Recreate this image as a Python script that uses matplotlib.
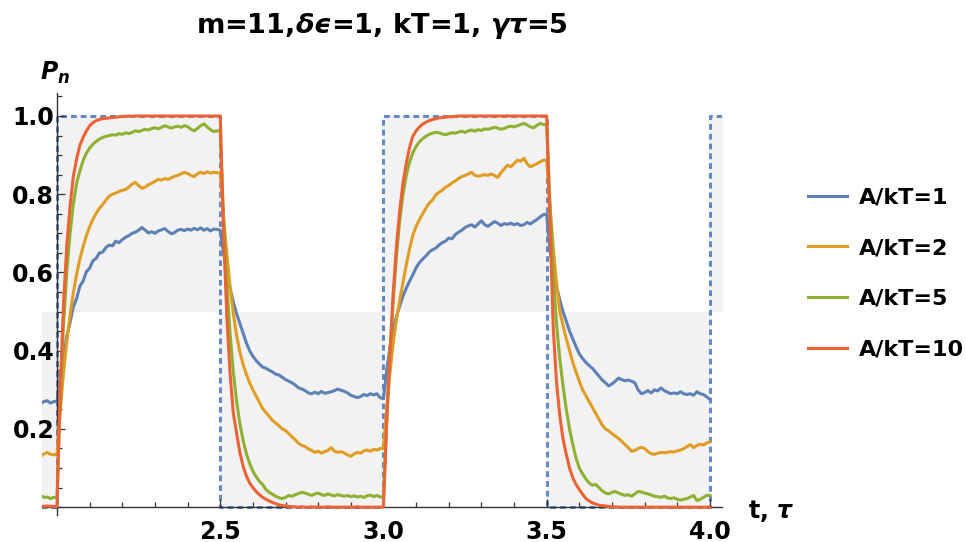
"""P_n(t) under a square-wave drive, four drive strengths, Mathematica-like look."""

import matplotlib

matplotlib.use("Agg")
import matplotlib.pyplot as plt
import numpy as np
from matplotlib.ticker import MultipleLocator

plt.rcParams.update({
    "font.family": "DejaVu Sans",
    "font.weight": "bold",
    "mathtext.fontset": "custom",
    "mathtext.rm": "DejaVu Sans:bold",
    "mathtext.it": "DejaVu Sans:bold:italic",
    "mathtext.bf": "DejaVu Sans:bold",
})

# sample times 1.95 ... 4.00, step 0.01 (206 samples)
T = np.linspace(1.95, 4.0, 206)

# drive: square wave between 0 and 1, switching every half period
WAVE_T = [1.95, 2.0, 2.0, 2.5, 2.5, 3.0, 3.0, 3.5, 3.5, 4.0, 4.0, 4.05]
WAVE_P = [0, 0, 1, 1, 0, 0, 1, 1, 0, 0, 1, 1]

LABELS = ["A/kT=1", "A/kT=2", "A/kT=5", "A/kT=10"]
COLORS = ["#5E81B5", "#E19C24", "#8FB032", "#EB6235"]

P_A1 = [
    0.265, 0.270, 0.272, 0.266, 0.270,
    # 2.00 - 2.49
    0.270, 0.335, 0.385, 0.437, 0.472, 0.512, 0.533, 0.565, 0.578, 0.602,
    0.611, 0.630, 0.636, 0.650, 0.652, 0.664, 0.670, 0.668, 0.680, 0.676,
    0.684, 0.690, 0.694, 0.700, 0.703, 0.708, 0.715, 0.708, 0.701, 0.704,
    0.700, 0.706, 0.709, 0.712, 0.705, 0.699, 0.702, 0.708, 0.710, 0.707,
    0.711, 0.708, 0.713, 0.709, 0.714, 0.708, 0.712, 0.706, 0.711, 0.710,
    # 2.50 - 2.99
    0.708, 0.650, 0.600, 0.560, 0.525, 0.495, 0.470, 0.445, 0.420, 0.400,
    0.386, 0.375, 0.366, 0.358, 0.355, 0.350, 0.346, 0.340, 0.338, 0.332,
    0.326, 0.322, 0.318, 0.312, 0.305, 0.302, 0.298, 0.292, 0.290, 0.294,
    0.290, 0.296, 0.291, 0.293, 0.295, 0.298, 0.302, 0.299, 0.296, 0.292,
    0.286, 0.283, 0.280, 0.283, 0.288, 0.285, 0.290, 0.287, 0.290, 0.280,
    # 3.00 - 3.49
    0.277, 0.350, 0.410, 0.455, 0.488, 0.515, 0.540, 0.560, 0.578, 0.594,
    0.612, 0.625, 0.634, 0.642, 0.652, 0.658, 0.662, 0.670, 0.676, 0.680,
    0.688, 0.686, 0.697, 0.703, 0.708, 0.715, 0.719, 0.722, 0.716, 0.724,
    0.732, 0.722, 0.718, 0.724, 0.730, 0.726, 0.720, 0.725, 0.723, 0.726,
    0.722, 0.725, 0.720, 0.722, 0.728, 0.724, 0.730, 0.735, 0.742, 0.748,
    # 3.50 - 4.00
    0.748, 0.655, 0.610, 0.565, 0.530, 0.500, 0.475, 0.450, 0.430, 0.410,
    0.392, 0.380, 0.370, 0.362, 0.355, 0.345, 0.335, 0.325, 0.318, 0.310,
    0.315, 0.322, 0.330, 0.326, 0.323, 0.325, 0.322, 0.318, 0.300, 0.290,
    0.293, 0.298, 0.292, 0.300, 0.297, 0.305, 0.298, 0.294, 0.290, 0.292,
    0.290, 0.295, 0.290, 0.288, 0.290, 0.286, 0.295, 0.290, 0.288, 0.282,
    0.276,
]

P_A2 = [
    0.130, 0.136, 0.140, 0.135, 0.134,
    0.134, 0.246, 0.344, 0.424, 0.492, 0.548, 0.595, 0.634, 0.666, 0.694,
    0.717, 0.736, 0.751, 0.764, 0.774, 0.785, 0.795, 0.800, 0.803, 0.807,
    0.810, 0.812, 0.818, 0.826, 0.830, 0.822, 0.815, 0.818, 0.824, 0.828,
    0.833, 0.838, 0.836, 0.840, 0.838, 0.842, 0.846, 0.848, 0.852, 0.856,
    0.853, 0.848, 0.845, 0.852, 0.856, 0.853, 0.857, 0.854, 0.856, 0.855,
    0.855, 0.745, 0.650, 0.565, 0.495, 0.440, 0.397, 0.365, 0.340, 0.318,
    0.300, 0.284, 0.268, 0.252, 0.242, 0.232, 0.222, 0.215, 0.208, 0.200,
    0.196, 0.188, 0.180, 0.172, 0.163, 0.158, 0.155, 0.149, 0.145, 0.140,
    0.143, 0.138, 0.142, 0.145, 0.152, 0.143, 0.140, 0.142, 0.138, 0.134,
    0.130, 0.136, 0.140, 0.138, 0.144, 0.146, 0.143, 0.148, 0.146, 0.150,
    0.150, 0.255, 0.345, 0.420, 0.480, 0.530, 0.575, 0.620, 0.660, 0.695,
    0.718, 0.735, 0.750, 0.764, 0.777, 0.785, 0.798, 0.805, 0.810, 0.818,
    0.822, 0.829, 0.834, 0.840, 0.845, 0.848, 0.852, 0.856, 0.848, 0.846,
    0.848, 0.850, 0.848, 0.852, 0.848, 0.843, 0.855, 0.865, 0.874, 0.870,
    0.878, 0.887, 0.884, 0.892, 0.878, 0.870, 0.874, 0.878, 0.883, 0.887,
    0.887, 0.770, 0.665, 0.575, 0.500, 0.465, 0.430, 0.400, 0.370, 0.345,
    0.322, 0.300, 0.285, 0.270, 0.255, 0.240, 0.225, 0.210, 0.200, 0.195,
    0.188, 0.182, 0.176, 0.168, 0.160, 0.152, 0.143, 0.145, 0.150, 0.153,
    0.150, 0.142, 0.137, 0.135, 0.138, 0.140, 0.139, 0.140, 0.142, 0.141,
    0.144, 0.146, 0.150, 0.155, 0.160, 0.152, 0.158, 0.161, 0.159, 0.164,
    0.167,
]

P_A5 = [
    0.030, 0.025, 0.026, 0.022, 0.025,
    0.025, 0.282, 0.468, 0.602, 0.699, 0.775, 0.828, 0.860, 0.886, 0.905,
    0.918, 0.928, 0.935, 0.941, 0.945, 0.948, 0.950, 0.952, 0.951, 0.955,
    0.953, 0.957, 0.955, 0.958, 0.962, 0.960, 0.963, 0.966, 0.964, 0.968,
    0.970, 0.967, 0.971, 0.975, 0.972, 0.969, 0.972, 0.974, 0.971, 0.975,
    0.973, 0.966, 0.962, 0.968, 0.975, 0.980, 0.972, 0.965, 0.960, 0.962,
    0.962, 0.741, 0.573, 0.445, 0.346, 0.271, 0.214, 0.171, 0.137, 0.112,
    0.092, 0.078, 0.066, 0.058, 0.045, 0.038, 0.033, 0.028, 0.024, 0.022,
    0.025, 0.030, 0.028, 0.032, 0.035, 0.038, 0.036, 0.033, 0.030, 0.034,
    0.036, 0.032, 0.030, 0.034, 0.031, 0.029, 0.032, 0.030, 0.028, 0.030,
    0.027, 0.029, 0.026, 0.028, 0.025, 0.029, 0.031, 0.027, 0.030, 0.026,
    0.026, 0.220, 0.390, 0.530, 0.645, 0.735, 0.800, 0.848, 0.882, 0.906,
    0.922, 0.934, 0.942, 0.948, 0.953, 0.956, 0.958, 0.957, 0.954, 0.952,
    0.955, 0.957, 0.956, 0.959, 0.961, 0.958, 0.962, 0.964, 0.961, 0.965,
    0.963, 0.967, 0.966, 0.968, 0.971, 0.969, 0.966, 0.968, 0.972, 0.974,
    0.972, 0.975, 0.978, 0.981, 0.977, 0.972, 0.970, 0.976, 0.981, 0.978,
    0.978, 0.780, 0.600, 0.470, 0.380, 0.310, 0.250, 0.200, 0.160, 0.125,
    0.100, 0.085, 0.072, 0.062, 0.056, 0.058, 0.050, 0.042, 0.036, 0.034,
    0.038, 0.040, 0.036, 0.033, 0.030, 0.032, 0.028, 0.034, 0.040, 0.039,
    0.036, 0.034, 0.031, 0.028, 0.027, 0.025, 0.028, 0.024, 0.022, 0.024,
    0.020, 0.018, 0.020, 0.022, 0.026, 0.030, 0.017, 0.020, 0.025, 0.030,
    0.030,
]

P_A10 = [
    0.003, 0.002, 0.003, 0.002, 0.002,
    0.002, 0.310, 0.520, 0.670, 0.770, 0.845, 0.890, 0.925, 0.945, 0.962,
    0.975, 0.983, 0.988, 0.991, 0.993, 0.994, 0.995, 0.996, 0.997, 0.998,
    0.999, 0.999, 1.000, 0.999, 1.000, 1.000, 1.000, 1.000, 1.000, 1.000,
    1.000, 1.000, 1.000, 1.000, 1.000, 1.000, 1.000, 1.000, 1.000, 1.000,
    1.000, 1.000, 1.000, 1.000, 1.000, 1.000, 1.000, 1.000, 1.000, 1.000,
    1.000, 0.700, 0.490, 0.343, 0.240, 0.190, 0.140, 0.105, 0.080, 0.062,
    0.050, 0.040, 0.032, 0.025, 0.020, 0.016, 0.012, 0.009, 0.006, 0.004,
    0.003, 0.002, 0.001, 0.001, 0.000, 0.001, 0.000, 0.000, 0.001, 0.000,
    0.000, 0.000, 0.000, 0.001, 0.000, 0.000, 0.000, 0.000, 0.000, 0.000,
    0.000, 0.000, 0.001, 0.000, 0.000, 0.000, 0.000, 0.000, 0.000, 0.000,
    0.001, 0.220, 0.400, 0.550, 0.670, 0.760, 0.830, 0.880, 0.920, 0.948,
    0.962, 0.972, 0.979, 0.984, 0.988, 0.991, 0.993, 0.995, 0.996, 0.997,
    0.998, 0.998, 0.999, 1.000, 1.000, 1.000, 1.000, 1.000, 1.000, 1.000,
    1.000, 1.000, 1.000, 1.000, 1.000, 1.000, 1.000, 1.000, 1.000, 1.000,
    1.000, 1.000, 1.000, 1.000, 1.000, 1.000, 1.000, 1.000, 1.000, 1.000,
    1.000, 0.720, 0.460, 0.320, 0.235, 0.175, 0.135, 0.100, 0.075, 0.058,
    0.045, 0.033, 0.022, 0.016, 0.011, 0.008, 0.005, 0.004, 0.003, 0.002,
    0.001, 0.001, 0.000, 0.000, 0.000, 0.000, 0.000, 0.000, 0.000, 0.000,
    0.000, 0.000, 0.000, 0.000, 0.000, 0.000, 0.000, 0.000, 0.000, 0.000,
    0.000, 0.000, 0.000, 0.000, 0.000, 0.000, 0.000, 0.000, 0.000, 0.000,
    0.000,
]

XTICKS = [2.5, 3.0, 3.5, 4.0]
YTICKS = [0.2, 0.4, 0.6, 0.8, 1.0]

AXIS_C = "#333333"


def main():
    fig = plt.figure(figsize=(9.66, 5.42), dpi=100)
    ax = fig.add_axes([42 / 966, 27 / 542, 680 / 966, 422.5 / 542])
    ax.set_xlim(1.954, 4.037)
    ax.set_ylim(-0.02, 1.06)

    # shading between the drive and the 1/2 line
    ax.fill_between(WAVE_T, WAVE_P, 0.5, color="#f2f2f2", lw=0, zorder=0)
    ax.plot(WAVE_T, WAVE_P, color="#6589c2", lw=2.2, ls=(0, (1.9, 1.3)),
            zorder=1)

    lines = []
    for i, (p, c) in enumerate(zip([P_A1, P_A2, P_A5, P_A10], COLORS)):
        (ln,) = ax.plot(T, p, color=c, lw=2.2, zorder=2 + i,
                        solid_joinstyle="round")
        lines.append(ln)

    # Mathematica-style axes crossing at (2, 0)
    for side in ("top", "right"):
        ax.spines[side].set_visible(False)
    ax.spines["left"].set_position(("data", 2.0))
    ax.spines["bottom"].set_position(("data", 0.0))
    for side in ("left", "bottom"):
        ax.spines[side].set_color(AXIS_C)
        ax.spines[side].set_linewidth(1.0)

    ax.set_xticks(XTICKS, labels=[f"{v:.1f}" for v in XTICKS])
    ax.set_yticks(YTICKS, labels=[f"{v:.1f}" for v in YTICKS])
    ax.xaxis.set_minor_locator(MultipleLocator(0.1))
    ax.yaxis.set_minor_locator(MultipleLocator(0.05))
    ax.tick_params(which="both", direction="in", color=AXIS_C, width=0.9,
                   labelsize=17)
    ax.tick_params(which="major", length=5.5)
    ax.tick_params(which="minor", length=3.5)
    ax.tick_params(axis="x", pad=9)
    ax.tick_params(axis="y", pad=2)

    fig.text(382 / 966, 1 - 33 / 542,
             "m=11,$\u03b4\u03f5$=1, kT=1, $\u03b3\u03c4$=5",
             ha="center", va="baseline", fontsize=19.5)
    fig.text(40 / 966, 1 - 80 / 542, r"$P_n$", ha="left", va="baseline",
             fontsize=17)
    fig.text(748 / 966, 1 - 518 / 542, r"t, $\tau$", ha="left", va="baseline",
             fontsize=17)

    fig.legend(lines, LABELS, loc="center left",
               bbox_to_anchor=(808 / 966, 1 - 273.5 / 542),
               bbox_transform=fig.transFigure, frameon=False, fontsize=16,
               handlelength=1.75, handletextpad=0.55, labelspacing=1.38,
               borderpad=0, borderaxespad=0)

    fig.savefig("out.png", dpi=100)
    plt.close(fig)


if __name__ == "__main__":
    main()
